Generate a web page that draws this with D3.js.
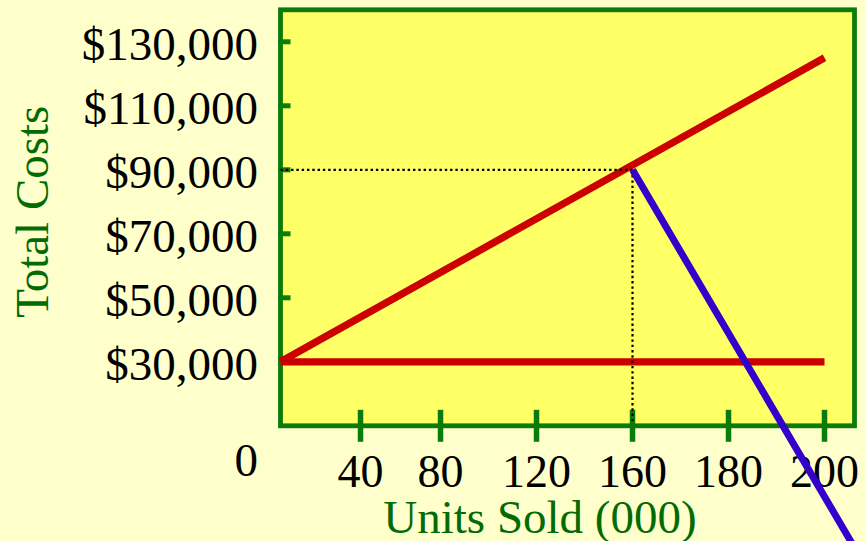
<!DOCTYPE html>
<html>
<head>
<meta charset="utf-8">
<script src="https://cdn.jsdelivr.net/npm/d3@7"></script>
<style>
  html, body { margin: 0; padding: 0; background: #FFFFCC; }
  svg { display: block; }
  text { font-family: "Liberation Serif", "Times New Roman", serif; }
</style>
</head>
<body>
<svg id="chart" width="865" height="541"></svg>
<script>
// Units sold (thousands) shown on the horizontal axis
const unitTicks = [40, 80, 120, 160, 180, 200];
// Dollar values shown on the vertical axis
const costTicks = [0, 30000, 50000, 70000, 90000, 110000, 130000];

// Fixed costs stay flat; total costs rise with volume
const fixedCostUnits = [0, 200];
const fixedCostValues = [30000, 30000];
const totalCostUnits = [0, 200];
const totalCostValues = [30000, 125000];

// Reading guide at 160 units / $90,000
const guideUnits = 160;
const guideCost = 90000;

// Downward sloping line starting from the guide point
const slopeUnits = [160, 207];
const slopeValues = [90000, -30000];

const svg = d3.select("#chart");
const W = 865, H = 541;

const plot = { left: 280.5, right: 854.5, top: 9.8, bottom: 425.8 };

// Horizontal axis is drawn in uneven stretches
const x = d3.scaleLinear()
  .domain([0, 80, 160, 200])
  .range([plot.left, plot.left + 160, plot.left + 352, plot.left + 544]);

const y = d3.scaleLinear()
  .domain([10000, 140000])
  .range([plot.bottom, plot.top]);

const GREEN = "#0b7b0b";
const TEXT_GREEN = "#036b03";

svg.append("rect").attr("width", W).attr("height", H).attr("fill", "#FFFFCC");

// Plot panel
svg.append("rect")
  .attr("x", plot.left).attr("y", plot.top)
  .attr("width", plot.right - plot.left)
  .attr("height", plot.bottom - plot.top)
  .attr("fill", "#FFFF66")
  .attr("stroke", GREEN)
  .attr("stroke-width", 4.8);

// Vertical axis ticks (inside the panel)
svg.append("g").selectAll("line")
  .data(costTicks.filter(v => v > y.domain()[0] && v < y.domain()[1]))
  .join("line")
  .attr("x1", plot.left - 2.4).attr("x2", plot.left + 10)
  .attr("y1", d => y(d)).attr("y2", d => y(d))
  .attr("stroke", GREEN).attr("stroke-width", 5);

// Horizontal axis ticks (crossing the bottom edge)
svg.append("g").selectAll("line")
  .data(unitTicks)
  .join("line")
  .attr("x1", d => x(d)).attr("x2", d => x(d))
  .attr("y1", plot.bottom - 16).attr("y2", plot.bottom + 16)
  .attr("stroke", GREEN).attr("stroke-width", 5.5);

// Vertical axis labels
const costFmt = d3.format(",");
svg.append("g").selectAll("text")
  .data(costTicks)
  .join("text")
  .attr("x", 258)
  .attr("y", d => y(d) + 18.5)
  .attr("text-anchor", "end")
  .attr("font-size", 47)
  .attr("fill", "#000")
  .text(d => d === 0 ? "0" : "$" + costFmt(d));

// Horizontal axis labels
svg.append("g").selectAll("text")
  .data(unitTicks)
  .join("text")
  .attr("x", d => x(d))
  .attr("y", 487)
  .attr("text-anchor", "middle")
  .attr("font-size", 46)
  .attr("fill", "#000")
  .text(d => d);

// Axis titles
svg.append("text")
  .attr("x", 540).attr("y", 533)
  .attr("text-anchor", "middle")
  .attr("font-size", 47)
  .attr("fill", TEXT_GREEN)
  .text("Units Sold (000)");

svg.append("text")
  .attr("transform", "translate(47.5,211.7) rotate(-90)")
  .attr("text-anchor", "middle")
  .attr("font-size", 47)
  .attr("fill", TEXT_GREEN)
  .text("Total Costs");

const line = d3.line().x(d => x(d[0])).y(d => y(d[1]));

// Cost lines
svg.append("path")
  .datum(d3.zip(fixedCostUnits, fixedCostValues))
  .attr("d", line)
  .attr("fill", "none").attr("stroke", "#CC0000").attr("stroke-width", 7.3);

svg.append("path")
  .datum(d3.zip(totalCostUnits, totalCostValues))
  .attr("d", line)
  .attr("fill", "none").attr("stroke", "#CC0000").attr("stroke-width", 7.3);

// Dotted guide lines
const guide = svg.append("g")
  .attr("stroke", "#000").attr("stroke-width", 2.2)
  .attr("stroke-dasharray", "2.4,2.9").attr("fill", "none");
guide.append("line")
  .attr("x1", x(0)).attr("x2", x(guideUnits))
  .attr("y1", y(guideCost)).attr("y2", y(guideCost));
guide.append("line")
  .attr("x1", x(guideUnits)).attr("x2", x(guideUnits))
  .attr("y1", y(guideCost)).attr("y2", y(10000) - 3);

// Downward line
svg.append("path")
  .datum(d3.zip(slopeUnits, slopeValues))
  .attr("d", line)
  .attr("fill", "none").attr("stroke", "#3300CC").attr("stroke-width", 7);
</script>
</body>
</html>
